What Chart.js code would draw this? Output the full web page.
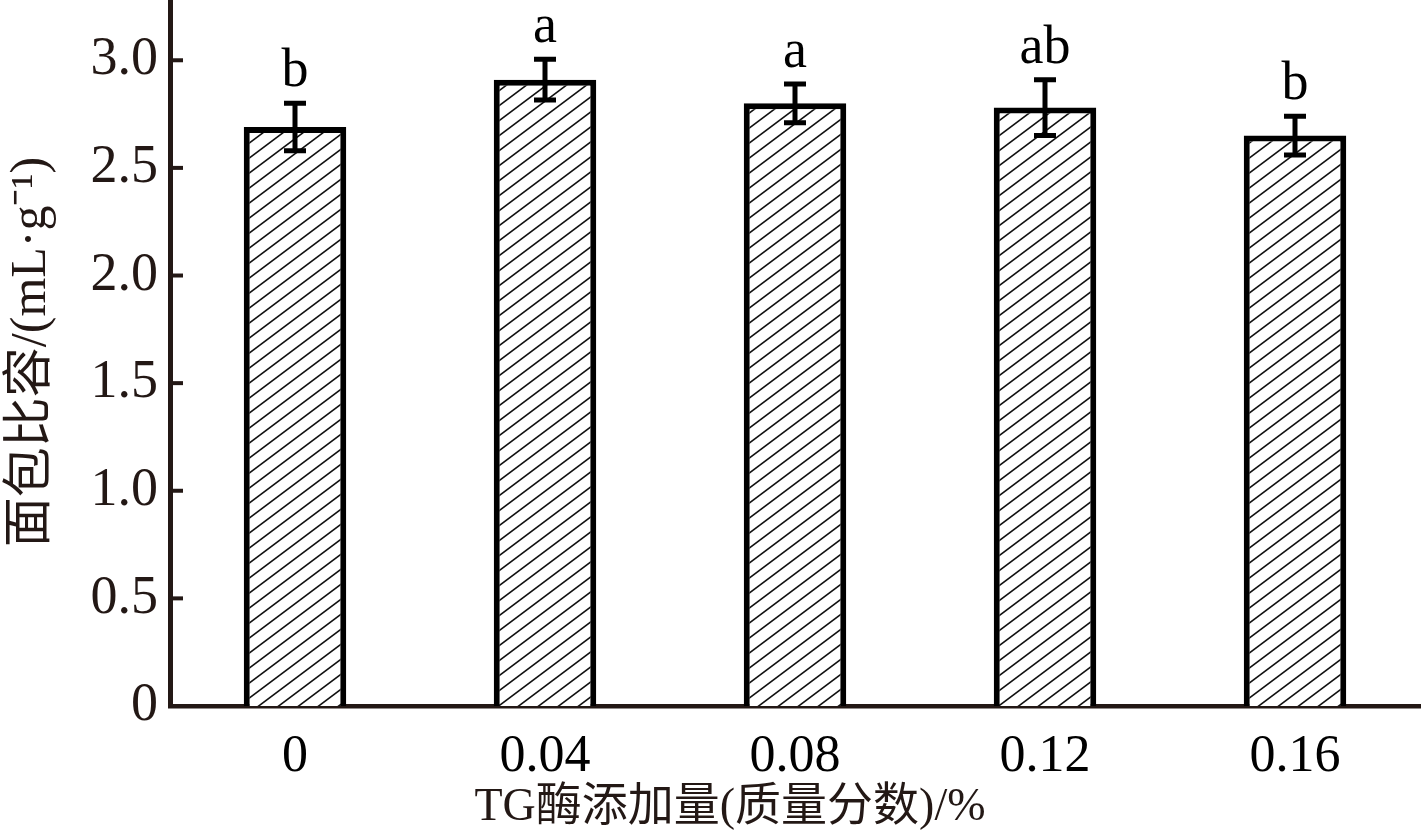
<!DOCTYPE html>
<html>
<head>
<meta charset="utf-8">
<script src="https://cdn.jsdelivr.net/npm/chart.js@4.4.1/dist/chart.umd.min.js"></script>
<style>
  html, body { margin: 0; padding: 0; background: #fff; }
  #wrap { width: 1423px; height: 839px; position: relative; }
</style>
</head>
<body>
<div id="wrap"><canvas id="chart"></canvas></div>
<script>
// data
const categories = ['0', '0.04', '0.08', '0.12', '0.16'];
const specificVolume = [2.69, 2.91, 2.80, 2.78, 2.65];
const errors = [0.11, 0.095, 0.09, 0.13, 0.09];
const letters = ['b', 'a', 'a', 'ab', 'b'];
const yTicks = [0, 0.5, 1.0, 1.5, 2.0, 2.5, 3.0];
const xTitle = 'TG酶添加量(质量分数)/%';
const yTitle = '面包比容/(mL·g⁻¹)';

const ink = '#231815';
const serif = '"Liberation Serif", "Noto Sans CJK SC", serif';

// diagonal hatch fill
function makeHatch() {
    const w = 20, h = 15;
    const c = document.createElement('canvas');
    c.width = w; c.height = h;
    const g = c.getContext('2d');
    g.fillStyle = '#fff';
    g.fillRect(0, 0, w, h);
    g.strokeStyle = '#111';
    g.lineWidth = 1.6;
    [[0, h, w, 0], [-w, h, 0, 0], [w, h, 2 * w, 0], [0, 2 * h, w, h], [0, 0, w, -h]].forEach(s => {
        g.beginPath();
        g.moveTo(s[0], s[1]);
        g.lineTo(s[2], s[3]);
        g.stroke();
    });
    return g.createPattern(c, 'repeat');
}

const extras = {
    id: 'extras',
    afterDatasetsDraw(chart) {
        const ctx = chart.ctx;
        const ys = chart.scales.y;
        const meta = chart.getDatasetMeta(0);
        ctx.save();
        ctx.strokeStyle = '#000';
        ctx.lineWidth = 5;
        ctx.lineCap = 'butt';
        meta.data.forEach((bar, i) => {
            const top = ys.getPixelForValue(specificVolume[i] + errors[i]);
            const bot = ys.getPixelForValue(specificVolume[i] - errors[i]);
            ctx.beginPath();
            ctx.moveTo(bar.x, top);
            ctx.lineTo(bar.x, bot);
            ctx.moveTo(bar.x - 11, top);
            ctx.lineTo(bar.x + 11, top);
            ctx.moveTo(bar.x - 11, bot);
            ctx.lineTo(bar.x + 11, bot);
            ctx.stroke();
            // significance letters
            ctx.fillStyle = '#000';
            ctx.font = '54px ' + serif;
            ctx.textAlign = 'center';
            ctx.textBaseline = 'alphabetic';
            ctx.fillText(letters[i], bar.x, top - 17);
        });
        ctx.restore();
    },
    afterDraw(chart) {
        const ctx = chart.ctx;
        const ys = chart.scales.y;
        const area = chart.chartArea;
        ctx.save();
        // inward ticks on the y axis
        ctx.strokeStyle = ink;
        ctx.lineWidth = 4;
        yTicks.forEach(v => {
            const y = ys.getPixelForValue(v);
            ctx.beginPath();
            ctx.moveTo(area.left, y);
            ctx.lineTo(area.left + 13, y);
            ctx.stroke();
        });
        // axis titles
        ctx.fillStyle = ink;
        ctx.font = '46px ' + serif;
        ctx.textAlign = 'center';
        ctx.textBaseline = 'middle';
        ctx.fillText(xTitle, 730, 808);
        ctx.font = '50px ' + serif;
        ctx.translate(32, 352);
        ctx.rotate(-Math.PI / 2);
        ctx.fillText(yTitle, 0, 0);
        ctx.restore();
    }
};

new Chart(document.getElementById('chart'), {
    type: 'bar',
    data: {
        labels: categories,
        datasets: [{
            data: specificVolume,
            backgroundColor: makeHatch(),
            borderColor: '#000',
            borderWidth: 6,
            borderSkipped: 'bottom',
            barPercentage: 0.41,
            categoryPercentage: 1
        }]
    },
    options: {
        responsive: true,
        maintainAspectRatio: false,
        animation: false,
        layout: { padding: { top: 0, right: 3, left: 0, bottom: 0 } },
        plugins: { legend: { display: false }, tooltip: { enabled: false } },
        scales: {
            x: {
                grid: { display: false, drawTicks: false },
                border: { display: true, color: ink, width: 4.5 },
                ticks: { color: '#000', padding: 20, font: { family: serif, size: 52 } },
                afterFit(scale) { scale.height = 133; }
            },
            y: {
                min: 0,
                max: 3.28,
                grid: { display: false, drawTicks: false },
                border: { display: true, color: ink, width: 5 },
                afterBuildTicks(scale) {
                    scale.ticks = yTicks.map(v => ({ value: v }));
                },
                ticks: {
                    color: ink,
                    padding: 12,
                    font: { family: serif, size: 54 },
                    callback: v => v === 0 ? '0' : v.toFixed(1)
                },
                afterFit(scale) {
                    scale.width = 170;
                    scale.paddingTop = 0;
                    scale.paddingBottom = 0;
                }
            }
        }
    },
    plugins: [extras]
});
</script>
</body>
</html>
